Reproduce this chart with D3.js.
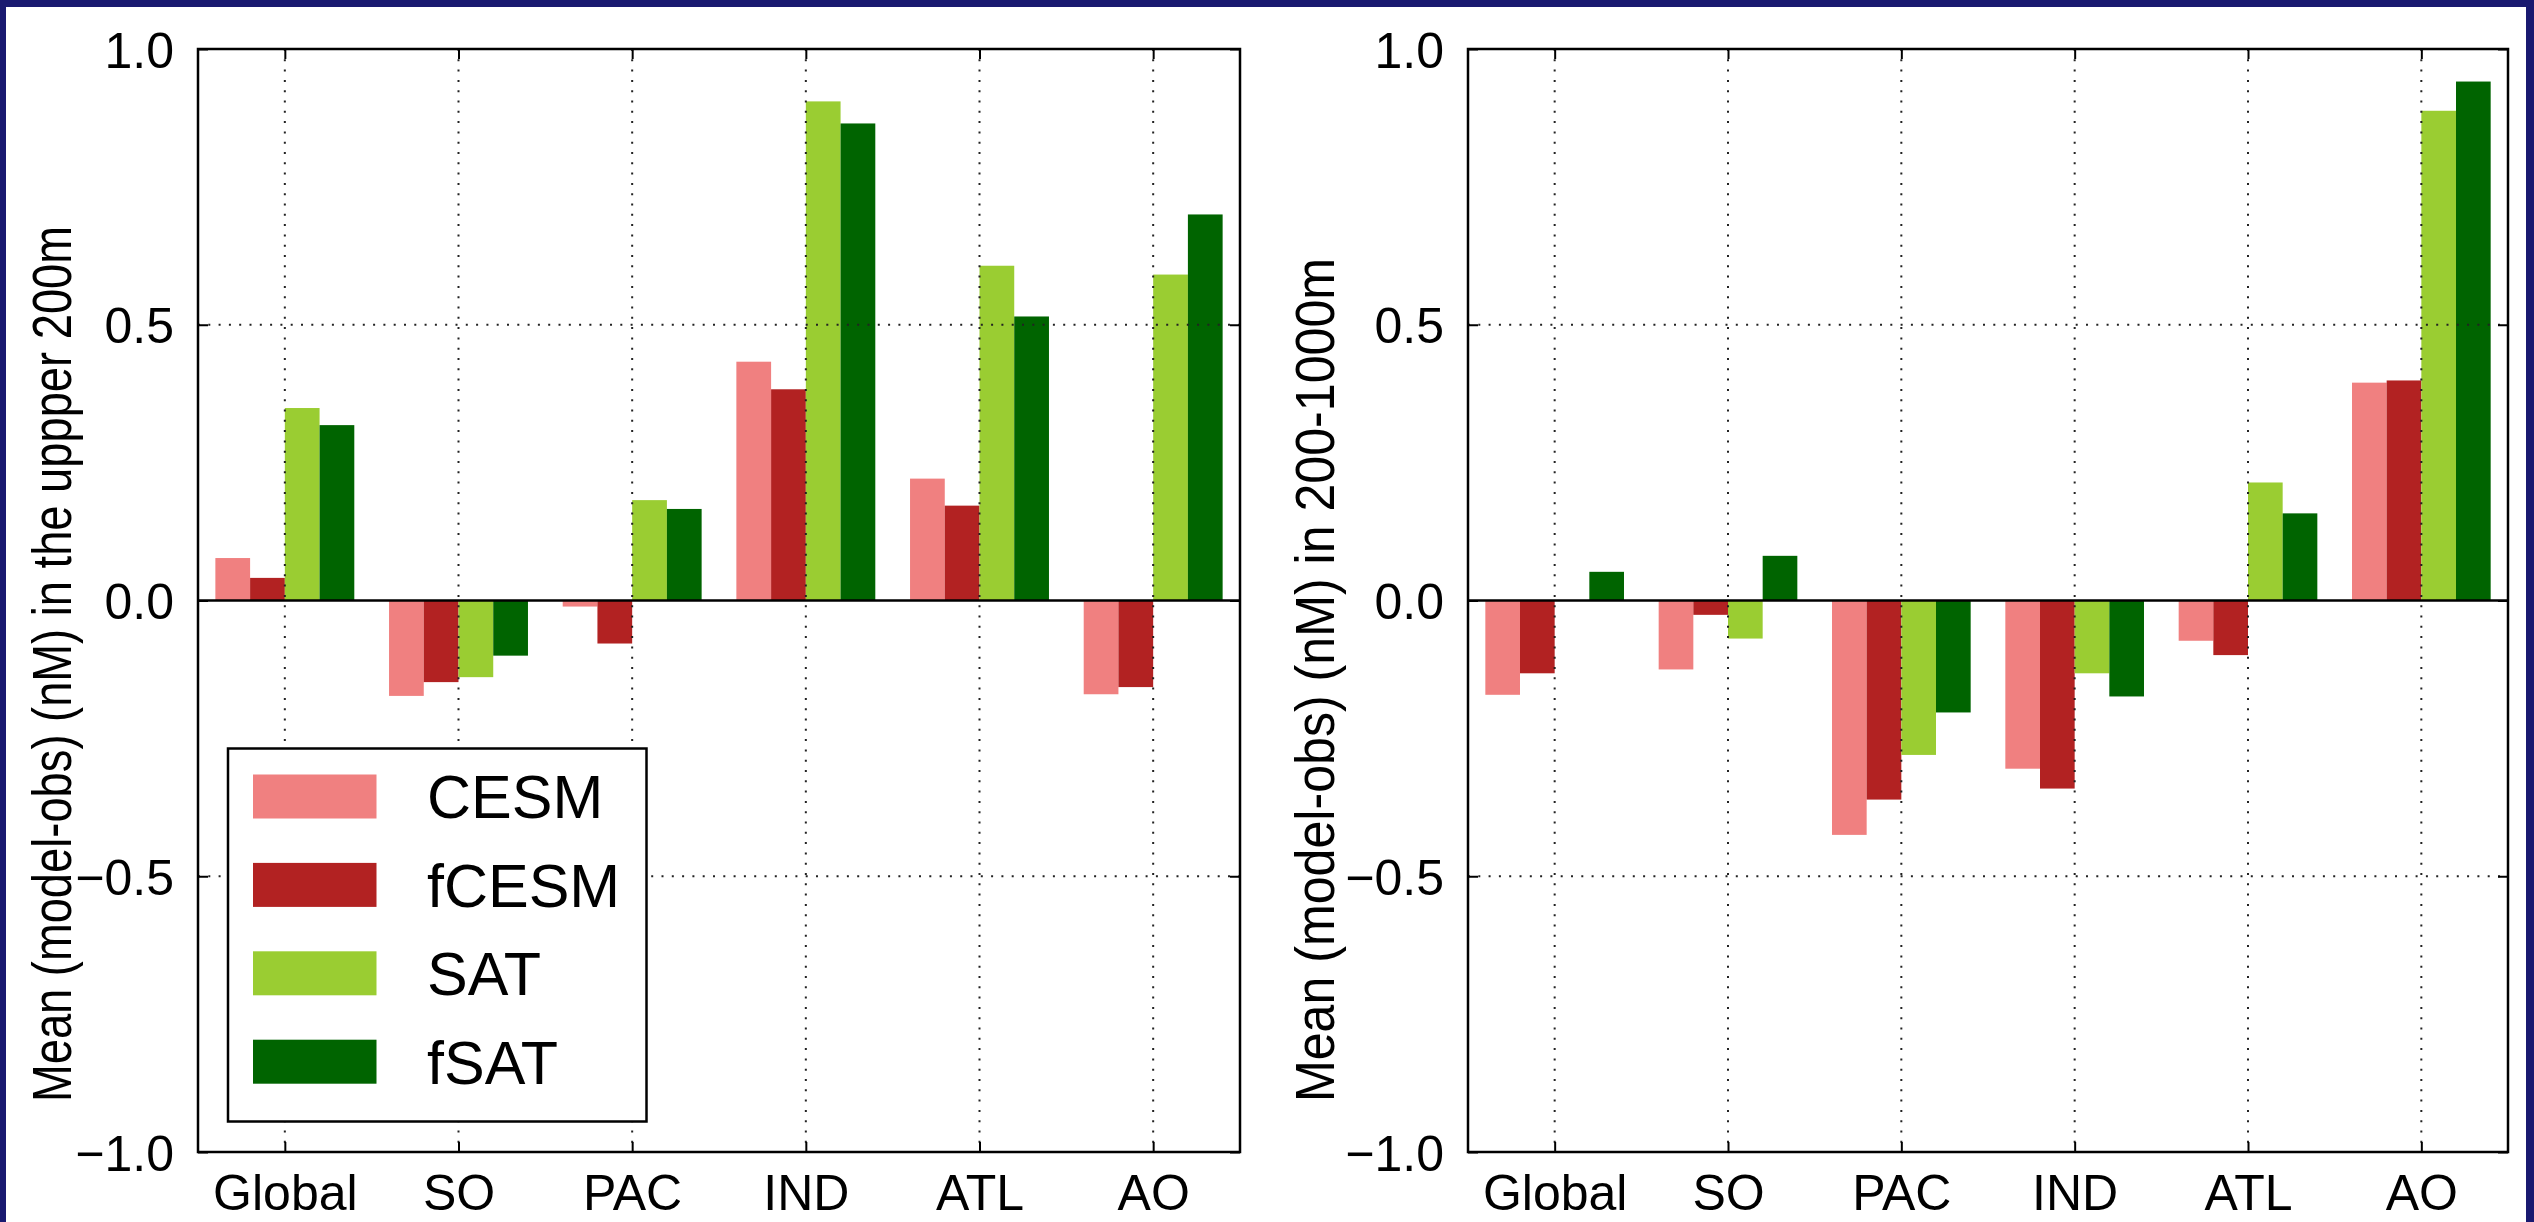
<!DOCTYPE html>
<html>
<head>
<meta charset="utf-8">
<script src="https://cdn.jsdelivr.net/npm/d3@7"></script>
<style>
  html, body { margin: 0; padding: 0; background: #fff; }
  svg { display: block; }
  text { font-family: "Liberation Sans", Arial, Helvetica, sans-serif; fill: #000; }
</style>
</head>
<body>
<svg id="chart" width="2534" height="1222"></svg>
<script>
// Ocean basins on the x axis
const regions = ["Global", "SO", "PAC", "IND", "ATL", "AO"];
// Model runs, one bar each per basin
const runs = ["CESM", "fCESM", "SAT", "fSAT"];
const runColors = ["#F08080", "#B22222", "#9ACD32", "#006400"];

// Mean model-minus-observation bias (nM), upper 200 m
const upperCESM  = [0.077, -0.173, -0.011, 0.433, 0.221, -0.170];
const upperFCESM = [0.041, -0.148, -0.078, 0.383, 0.172, -0.157];
const upperSAT   = [0.349, -0.139, 0.182, 0.905, 0.607, 0.591];
const upperFSAT  = [0.318, -0.100, 0.166, 0.865, 0.515, 0.700];

// Mean model-minus-observation bias (nM), 200-1000 m
const deepCESM  = [-0.171, -0.125, -0.425, -0.305, -0.073, 0.395];
const deepFCESM = [-0.132, -0.026, -0.361, -0.341, -0.099, 0.399];
const deepSAT   = [0.000, -0.069, -0.280, -0.132, 0.214, 0.888];
const deepFSAT  = [0.052, 0.081, -0.203, -0.174, 0.158, 0.941];

// y axis ticks and their labels
const yTicks = [-1.0, -0.5, 0.0, 0.5, 1.0];
const yTickLabels = ["\u22121.0", "\u22120.5", "0.0", "0.5", "1.0"];

const yLabelUpper = "Mean (model-obs) (nM) in the uppper 200m";
const yLabelDeep = "Mean (model-obs) (nM) in 200-1000m";

const svg = d3.select("#chart");

// outer navy frame
svg.append("rect").attr("x", 0).attr("y", 0).attr("width", 2534).attr("height", 1222).attr("fill", "#191970");
svg.append("rect").attr("x", 6).attr("y", 7).attr("width", 2520).attr("height", 1215).attr("fill", "#ffffff");

function panel(opts) {
  const { left, right, top, bottom, data, ylabel, labelX, labelLen, labelFont, labelSize, legend } = opts;
  const g = svg.append("g");

  const x = d3.scaleLinear().domain([-0.5, regions.length - 0.5]).range([left, right]);
  const y = d3.scaleLinear().domain([-1, 1]).range([bottom, top]);
  const barW = 0.2;

  // bars
  runs.forEach((run, si) => {
    g.append("g").selectAll("rect")
      .data(data[si])
      .join("rect")
      .attr("x", (d, i) => x(i - 0.4 + si * barW))
      .attr("width", (d, i) => x(i - 0.4 + (si + 1) * barW) - x(i - 0.4 + si * barW))
      .attr("y", d => y(Math.max(0, d)))
      .attr("height", d => Math.abs(y(d) - y(0)))
      .attr("fill", runColors[si]);
  });

  // dotted grid on top of the bars
  const grid = g.append("g").attr("stroke", "#222").attr("stroke-width", 2)
    .attr("stroke-dasharray", "2,8.3").attr("fill", "none");
  regions.forEach((r, i) => {
    grid.append("line").attr("x1", x(i)).attr("x2", x(i)).attr("y1", top).attr("y2", bottom);
  });
  yTicks.filter(t => t !== 0 && Math.abs(t) !== 1).forEach(t => {
    grid.append("line").attr("x1", left).attr("x2", right).attr("y1", y(t)).attr("y2", y(t));
  });

  // zero line
  g.append("line").attr("x1", left).attr("x2", right).attr("y1", y(0)).attr("y2", y(0))
    .attr("stroke", "#000").attr("stroke-width", 2.5);

  // axes via d3 axis generators, inward ticks
  const xb = d3.axisBottom(x).tickValues(regions.map((r, i) => i)).tickSize(-10).tickFormat(i => regions[i]).tickPadding(22);
  const xt = d3.axisTop(x).tickValues(regions.map((r, i) => i)).tickSize(-10).tickFormat("");
  const yl = d3.axisLeft(y).tickValues(yTicks).tickSize(-10).tickPadding(24).tickFormat((d, i) => yTickLabels[i]);
  const yr = d3.axisRight(y).tickValues(yTicks).tickSize(-10).tickFormat("");

  const styleAxis = sel => {
    sel.select(".domain").remove();
    sel.selectAll(".tick line").attr("stroke", "#000").attr("stroke-width", 2);
    sel.selectAll("text").attr("font-size", 50).attr("font-family", "Liberation Sans, Arial, sans-serif").attr("fill", "#000");
  };
  g.append("g").attr("transform", `translate(0,${bottom})`).call(xb).call(styleAxis)
    .selectAll("text").attr("dy", "0.71em");
  g.append("g").attr("transform", `translate(0,${top})`).call(xt).call(styleAxis);
  g.append("g").attr("transform", `translate(${left},0)`).call(yl).call(styleAxis)
    .selectAll("text").attr("dy", "0.36em");
  g.append("g").attr("transform", `translate(${right},0)`).call(yr).call(styleAxis);

  // frame
  g.append("rect").attr("x", left).attr("y", top).attr("width", right - left).attr("height", bottom - top)
    .attr("fill", "none").attr("stroke", "#000").attr("stroke-width", 2.5);

  // y label
  g.append("text")
    .attr("transform", `translate(${labelX},1102) rotate(-90)`)
    .attr("text-anchor", "start")
    .attr("font-size", labelSize)
    .attr("font-family", labelFont)
    .attr("textLength", labelLen)
    .attr("lengthAdjust", "spacingAndGlyphs")
    .text(ylabel);

  if (legend) {
    const lg = g.append("g");
    lg.append("rect").attr("x", 228).attr("y", 748.5).attr("width", 418.5).attr("height", 373)
      .attr("fill", "#fff").attr("stroke", "#000").attr("stroke-width", 2.5);
    runs.forEach((run, si) => {
      const cy = 796.5 + si * 88.4;
      lg.append("rect").attr("x", 253).attr("y", cy - 22).attr("width", 123.5).attr("height", 44)
        .attr("fill", runColors[si]);
      lg.append("text").attr("x", 427).attr("y", cy).attr("dy", "0.36em")
        .attr("font-size", 61).text(run);
    });
  }
}

panel({
  left: 198, right: 1240, top: 49, bottom: 1152,
  data: [upperCESM, upperFCESM, upperSAT, upperFSAT],
  ylabel: yLabelUpper, labelX: 71, labelLen: 876, labelSize: 55,
  labelFont: "Liberation Sans, Arial, sans-serif",
  legend: true
});

panel({
  left: 1468, right: 2508, top: 49, bottom: 1152,
  data: [deepCESM, deepFCESM, deepSAT, deepFSAT],
  ylabel: yLabelDeep, labelX: 1334, labelLen: 844, labelSize: 56,
  labelFont: "DejaVu Sans, sans-serif",
  legend: false
});
</script>
</body>
</html>
